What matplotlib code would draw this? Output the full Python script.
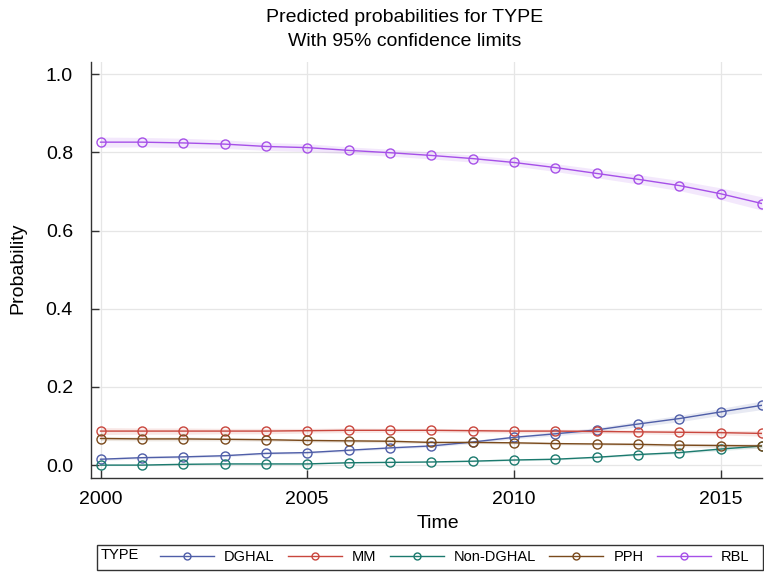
import matplotlib
matplotlib.use("Agg")
import matplotlib.pyplot as plt
from matplotlib.lines import Line2D
from matplotlib.patches import Rectangle
import numpy as np

plt.rcParams["font.family"] = ["Liberation Sans", "DejaVu Sans"]

years = list(range(2000, 2017))
types = ["DGHAL", "MM", "Non-DGHAL", "PPH", "RBL"]
colors = ["#4f5ea8", "#c9463d", "#1b7a6e", "#7a4a1c", "#a650e8"]

dghal = [0.015, 0.019, 0.021, 0.024, 0.030, 0.032, 0.038, 0.044, 0.049, 0.059,
         0.071, 0.080, 0.090, 0.105, 0.119, 0.136, 0.153]
mm = [0.087, 0.087, 0.087, 0.087, 0.087, 0.088, 0.089, 0.089, 0.089, 0.088,
      0.087, 0.087, 0.086, 0.085, 0.084, 0.083, 0.081]
non_dghal = [0.000, 0.000, 0.002, 0.003, 0.003, 0.003, 0.006, 0.007, 0.008, 0.010,
             0.013, 0.015, 0.020, 0.027, 0.032, 0.041, 0.049]
pph = [0.068, 0.067, 0.067, 0.066, 0.065, 0.063, 0.062, 0.061, 0.058, 0.058,
       0.057, 0.055, 0.054, 0.053, 0.051, 0.050, 0.049]
rbl = [0.826, 0.826, 0.824, 0.821, 0.815, 0.812, 0.805, 0.799, 0.792, 0.784,
       0.774, 0.761, 0.746, 0.731, 0.715, 0.694, 0.669]

# half-widths of the 95% confidence bands
ci_dghal = [0.003, 0.003, 0.003, 0.003, 0.003, 0.003, 0.003, 0.003, 0.003, 0.004,
            0.004, 0.005, 0.006, 0.007, 0.008, 0.009, 0.011]
ci_mm = [0.009, 0.008, 0.008, 0.007, 0.007, 0.006, 0.006, 0.005, 0.005, 0.005,
         0.005, 0.005, 0.005, 0.005, 0.006, 0.006, 0.007]
ci_non = [0.001, 0.001, 0.001, 0.001, 0.001, 0.001, 0.001, 0.001, 0.001, 0.002,
          0.002, 0.002, 0.002, 0.003, 0.003, 0.004, 0.005]
ci_pph = [0.005, 0.005, 0.005, 0.004, 0.004, 0.004, 0.004, 0.004, 0.003, 0.003,
          0.003, 0.003, 0.003, 0.004, 0.004, 0.005, 0.006]
ci_rbl = [0.013, 0.012, 0.012, 0.011, 0.010, 0.010, 0.009, 0.009, 0.009, 0.009,
          0.009, 0.010, 0.011, 0.012, 0.013, 0.015, 0.017]

series = [dghal, mm, non_dghal, pph, rbl]
cis = [ci_dghal, ci_mm, ci_non, ci_pph, ci_rbl]

fig = plt.figure(figsize=(7.64, 5.72), dpi=100)
ax = fig.add_axes([91 / 764, 1 - 478 / 572, (762 - 91) / 764, (478 - 62) / 572])

x = np.array(years)
for vals, ci, col in zip(series, cis, colors):
    v = np.array(vals)
    c = np.array(ci)
    ax.fill_between(x, v - c, v + c, color=col, alpha=0.13, lw=0)
    ax.plot(x, v, color=col, lw=1.0, marker="o", markersize=6.5,
            markerfacecolor="none", markeredgewidth=1.0, clip_on=True)

ax.set_xlim(1999.77, 2016.0)
ax.set_ylim(-0.033, 1.031)
ax.set_xticks([2000, 2005, 2010, 2015])
ax.set_yticks([0.0, 0.2, 0.4, 0.6, 0.8, 1.0])
ax.set_yticklabels(["0.0", "0.2", "0.4", "0.6", "0.8", "1.0"])
ax.grid(True, color="#e6e6e6", lw=0.9)
ax.set_axisbelow(True)
for s in ["top", "right"]:
    ax.spines[s].set_visible(False)
for s in ["left", "bottom"]:
    ax.spines[s].set_color("#333333")
    ax.spines[s].set_linewidth(1.0)
ax.tick_params(direction="in", length=6, width=1.0, color="#333333",
               labelsize=14, pad=13)
ax.tick_params(axis="x", pad=9)

fig.text(438 / 764, 1 - 524 / 572, "Time", ha="center", va="center", fontsize=14)
fig.text(18 / 764, 1 - 268 / 572, "Probability", ha="center", va="center",
         rotation=90, fontsize=14)
fig.text(405 / 764, 1 - 17 / 572, "Predicted probabilities for TYPE",
         ha="center", va="center", fontsize=14)
fig.text(405 / 764, 1 - 42 / 572, "With 95% confidence limits",
         ha="center", va="center", fontsize=14)

# legend box
fig.patches.append(Rectangle((97 / 764, 1 - 570 / 572), (763 - 97) / 764, 25 / 572,
                             transform=fig.transFigure, fill=False,
                             edgecolor="#333333", lw=1.0))
fig.text(101 / 764, 1 - 555 / 572, "TYPE", ha="left", va="center", fontsize=10.5)
handles = [Line2D([], [], color=c, lw=1.0, marker="o", markersize=5,
                  markerfacecolor="none") for c in colors]
fig.legend(handles, types, loc="center left",
           bbox_to_anchor=(160 / 764, 1 - 557 / 572), ncol=5, frameon=False,
           fontsize=10.5, handlelength=3.7, handletextpad=0.7,
           columnspacing=0.9, borderpad=0, borderaxespad=0)

fig.savefig("out.png", dpi=100)
